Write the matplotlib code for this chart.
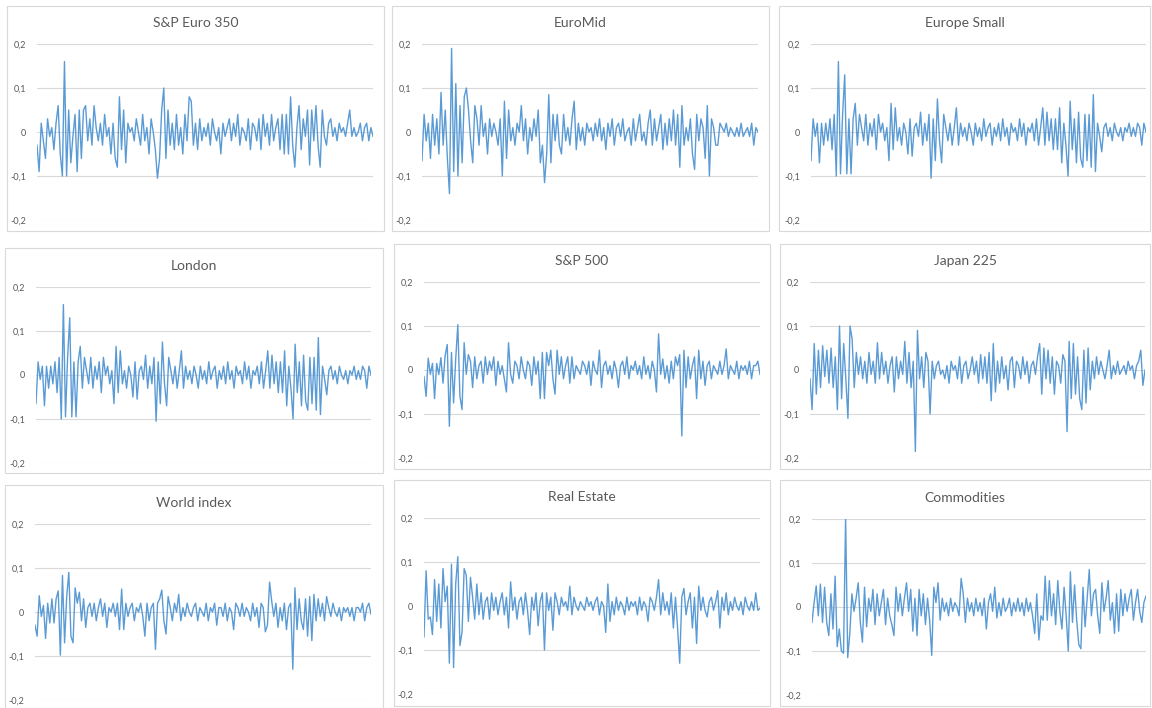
import numpy as np
import matplotlib
matplotlib.use("Agg")
import matplotlib.pyplot as plt
from matplotlib.patches import Rectangle

# Returns, in percent (one value per period)
sp_euro_350 = [
    -3, -9, 2, -2, -6, 3, -1, 1, -4, 2,
    6, -5, -10, 16, -10, 5, -7, -1, 4, -9,
    5, -6, 5, 6, -2, 3, -3, 6, 1, -2,
    2, -3, 4, -1, 1, -5, 2, -6, -8, 8,
    -4, 5, -7, 2, 0, 1, -2, 3, 0, -3,
    4, -2, 1, -5, 3, 0, -4, -10.5, -6, 5,
    10, -6, 5, -3, 2, -4, 4, -3, 1, -5,
    4, -2, 8, 7, -3, 2, -4, 3, -2, 1,
    -1, 2, -3, 3, 0, -2, 1, -5, 2, -1,
    1, 3, -2, 2, -1, 4, -3, 1, 0, -2,
    3, -4, 2, 1, -2, 3, -4, 4, -1, 2,
    -3, 4, -2, 1, 3, -4, 4, -5, 4, -5,
    8, -3, -8, 1, 6, -4, 3, -1, 5, -7.5,
    5, -2, 6, -3, -8, 5, -1, -3, 2, 3,
    -1, 1, -2, 2, 0, 1, -1, 2, 5, -1,
    1, -1, 0, 2, -2, 1, 2, -2, 1, -1,
]

euromid = [
    -6.5, 4, -2, 2, -6, 4, -3, 3, -5, 9,
    -3, 5, -6, -14, 19, -9, 11, -10, 6, -7,
    8, 10, 5, -2, -7, 6, 3, -3, 6, -1,
    2, -5, 3, -1, 2, 0, -3, 3, -10, 7,
    -6, 5, -2, 1, -3, 2, 0, 6, -2, 3,
    -5, 1, -2, 3, -1, 5, -7, -3, -11.5, -5,
    8.5, -7, 4, -2, 4, -3, -5, 4, -2, 1,
    -3, 3, 7, -4, 2, -2, 1, -3, 2, 0,
    1, -2, 2, -1, 3, -2, 1, -4, 2, -1,
    3, -3, 1, 2, -1, 3, -2, 0, 1, -3,
    3, -2, 1, 4, -2, 0, -3, 2, 5, -3,
    3, -2, 1, 4, -4, 2, -3, 3, -2, 5,
    -3, 4, -8, 6, -3, 1, -2, 3, -5, -8.5,
    4, -2, 3, 1, -6, 6, -10, 3, 1, -3,
    -3, 2, 1, 0, 2, -1, 1, 0, -1, 1,
    -1, 2, -1, 0, 1, -1, 2, -3, 1, 0,
]

europe_small = [
    -6.5, 3, -1, 2, -7, 2, -3, 2, -2, 3,
    -4, 4, -10, 16, -9.5, 4, 13, -9.5, 3, -9.5,
    3, 6.5, -3, 4, 1, -2, 4, -3, 2, -1,
    3, -4, 4, 0, 2, -2, 1, -6.5, 6.5, -4,
    5.5, -2, 1, -3, 2, 0, -5, 3, -5.5, 1,
    2, -1, 4.5, -3, 2, -2, 4, -10.5, 3, -6.5,
    7.5, -2, -7, 4, 1, -2, 2, -3, 1, 5.5,
    -3, 2, -1, 1, -2, 2, 0, -3, 2, -1,
    1, -2, 3, -1, 1, 2, -3, 1, -1, 2,
    -2, 3, -1, 1, -3, 2, 0, 1, -2, 3,
    -1, 2, -3, 1, 0, 2, -2, 3, -3, 1,
    5.5, -3, 4.5, -2, 3, -4, 3, -4, 5.5, -7,
    2, -3, -10, 7, -4, 3, -7, 4.5, -6, -8,
    4, -6.5, 4, -8, 8.5, -9, 2, -1, -4.5, 1,
    2, -1, 1, -2, 2, 0, -1, 1, -2, 1,
    0, 2, -1, 1, -1, 2, 1, -3, 2, 0,
]

# London is the same series as Europe Small in the source sheet
london = list(europe_small)

sp_500 = [
    -1.5, -6, 2.7, -1, 1.5, -6.5, 1.5, -1, 2.8, -3,
    3.3, 5.8, -12.8, 4, -7.5, 2.5, 10.3, -6, -9, 6.2,
    -1, 3.5, 2, -4, 3, -2, 1, 2, -3, 3,
    -1, 2, 0, 3, -3.5, 2, -1, 1, -2, -5,
    6.2, -1, -3, 2, 1, -2, 3, 0, -2, 2,
    1, -3.5, 3, -1, 2, -6.5, 4, -6.5, 4, 1,
    4.5, -2, -5.5, 4.5, -1, 3, -2, 1, 3, -3,
    3, -2, 1, 0, -1, 2, 1, -1, 2, -3.5,
    2, 0, -1, 4.5, -4, 1, 2, -1, 1, -2,
    2, 0, -4, 1, 2, -1, 3, -2, 1, 0,
    2, -1, 1, -2, 3, -1, 1, -2, 2, 0,
    -5, 8.2, -1, 2.5, -2, 1, -3, 2, -2, 3,
    1, 3.5, -15, 4.5, -4, 3, -2, 1, 3, -6.5,
    4.5, -2, 2, -3.5, 1, 2, -2, 1, 0, -1,
    2, -1, 1, 4.8, -2, 1, 0, -1, 2, -2,
    1, 0, 1, -1, 2, -2, 1, 1, 2, -1,
]

japan_225 = [
    -2, -9, 6, -5.5, 4.5, -4, 5.5, -1.5, 4.5, -3,
    5, -4, 3, -9, 10, -6.5, 6, -2, -11, 10,
    7, -4, 4, -1, 3, -2, 2, -3, 4, -1,
    2, -3, 6.2, -2, 4, -1, 2, -3, 1, 3,
    -5, 3, -2, 2, -1, 6.5, -3, 4, -4, 2,
    -18.5, 9, -2, 3, -4, 4, 2, -10, 2, -2,
    1, 2, -1, 0, -2, 1, -3, 2, 0, 1,
    -2, 3, -3, 1, 2, -2, 0, 3, -1, 2,
    -3, 3.5, -2, 3, -3, 4, -7, 6, -5, 2,
    -3, 3, -2, 1, -4.5, 2, 3, -4, 2, 1,
    -2, 3, -1, 2, -3, 1, 2, -1, 3, 6,
    -5.5, 5, -2, 4.5, -3, 3, -5.5, 2, 1, -3,
    3.5, 2, -14, 6.5, -6.5, 6, -5.5, 3, -6.5, -9,
    4.5, -7.5, 5, -4.5, 2, -2, 3, -1, 2, 0,
    -2, 1, 4.5, -2, 1, -1, 2, -1, 0, 1,
    -1, 2, 0, 1, -2, 1, 2, 4.5, -3.5, 0,
]

world_index = [
    -3, -5.5, 3.7, -1, 1.5, -6, 2, -2.5, 3, -2.5,
    3, 4.8, -9.8, 8.3, -7, 3.5, 9, -5.5, -7, 5.5,
    2, 4.5, -2, 3, -3.5, 1, 2, -1, 2, -2,
    1, 3, -1, 2, -3.5, 1, 0, 2, -1, 2,
    -4, 5.2, -4, 2, -1, 1, 2, -2, 1, 0,
    2, -1, -5.5, 2, -2, 1, 2, -8.5, 2, 3,
    5, -2, -5, 3.5, 1, -2, 2, 0, 4, -2,
    1, -1, 2, 0, -1, 1, 2, -2, 1, 0,
    -1, 2, -2, 1, 0, 2, -3, 1, 1, -1,
    2, -2, 1, 0, -4, 2, 1, -1, 2, -1,
    1, 0, -2, 2, -1, 1, -3.5, 2, 1, -4.5,
    -3, 6.8, 2.5, -1, 2, -3.5, 1, -2, 2, -4,
    1, 2, -13, 5.5, -4, 3, -2, -4, 3, -5.5,
    3.5, -6.5, 4, -2, 3, -1, 2, -2, 3.5, 1,
    -1, 2, 0, -1, 1, -2, 1, 0, 1, -1,
    1, -2, 1, 1, 0, 2, -2, 1, 2, -0.5,
]

real_estate = [
    -7, 8, -3, -2.5, -6.5, 6, -3.5, 5, -5, 8.5,
    1, 4.5, -13, 9.5, -14, 5, 11.2, -9, -6, 8.5,
    7, -3.5, 6.5, 2, -3, 5, -2, 3, -3, 1,
    2, -3, 3, -1, 2, -2, 1, 3, -2, 2,
    -5, 5.5, -1, 2, -3, 1, 2, -2, 3, -1,
    -6.5, 2, -1, 3, -4.5, 1, 3, -10, 3, -1,
    2, -5.5, 3, 1, -2, 2, 0, 1, -1, 4.5,
    -2, 2, 0, -1, 1, 0, -1, 2, 0, 1,
    -1, 1, 2, -2, 1, 0, -6, 5, -3.5, 1,
    -2, 2, -1, 1, 0, -2, 2, -1, 1, 0,
    1, -2, 2, -1, 1, 0, -3.5, 2, 1, -1,
    2, 6, -2, 3, -1, 1, -2, 3, -5, 2,
    -5, -13, 2, 4, -2, 1, 3, -5, 2, -8.5,
    4.5, -1, 2, -1, -2.5, 1, 2, -1, 1, 3.5,
    -5, 2, -1, 3, -2, 1, -1, 2, 0, -1,
    1, -2, 2, 0, -1, 1, -1, 3, -1, -0.5,
]

commodities = [
    -3.5, 1, 4.8, -2, 5.2, -3.5, 4.5, -3.5, -6.5, 3,
    -5, 7, -9, -5, -10, -10.5, 20.3, -11.5, -6, 3,
    -1, 2, 5.5, -3.5, -8, 4.5, -4.5, 2, -1, 4,
    -4, 3, -2, 1, 4, -4, 2, -2, -4, -6.5,
    4.5, -1, 3, -2, 2, 5.5, -1, 4, -5.5, 2,
    -6.5, 4, -2, 3, -4, 2, -3, -11, 4.5, 1,
    5.5, -3, 2, -1, 1, -2, 2, -1, 1, 0,
    -2, 6.5, 3, -3.5, 2, -1, 1, -2, 2, -1,
    1, -2, 2, -5, 1, 3, -1, 4.5, -2.5, 1,
    -2, 2, -1, 0, 2, -2, 1, -1, 2, -1,
    1, -2, 2, -1, 1, -2, -6, 3, -7.5, -2,
    -3, 7, -3, 6, -2, 3, -4, 6, -1, -5,
    4.5, -2, -10, 8, -3.5, 5, -3, -8.5, -9.5, 4.5,
    -4.5, 2, 8.5, -2, 3, 4, -2, -6, 5.5, -1,
    2, 6, -3, 1, -6, 3, -5.5, 4, -2, 3,
    -1, 2, 4, -3, 1, 4, -1, -3.5, 1, 2.5,
]

titles = ["S&P Euro 350", "EuroMid", "Europe Small",
          "London", "S&P 500", "Japan 225",
          "World index", "Real Estate", "Commodities"]
series = [sp_euro_350, euromid, europe_small,
          london, sp_500, japan_225,
          world_index, real_estate, commodities]

y_ticks = [-0.2, -0.1, 0, 0.1, 0.2]
y_tick_labels = ["-0,2", "-0,1", "0", "0,1", "0,2"]

W, H = 1152, 708

# pixel layout of each Excel chart: outer box (l, t, r, b), plot area (l, r, y at 0.2, y at -0.2)
boxes = [(7, 6, 384, 231), (392, 6, 769, 231), (779, 6, 1150, 231),
         (5, 248, 383, 473), (394, 244, 770, 469), (780, 244, 1150, 469),
         (5, 485, 383, 712), (394, 480, 770, 706), (780, 480, 1150, 706)]
plots = [(37, 373, 44, 220), (422, 758, 44, 220), (811, 1146, 44, 220),
         (36, 371, 287, 463), (424, 760, 282, 458), (810, 1145, 282, 458),
         (35, 371, 524, 700), (424, 760, 518, 694), (812, 1146, 519, 695)]

plt.rcParams['font.family'] = ['Lato', 'DejaVu Sans']

line_color = '#5b9bd5'
grid_color = '#d9d9d9'
text_color = '#595959'

fig = plt.figure(figsize=(W / 100, H / 100), dpi=100)

for title, vals, box, plot in zip(titles, series, boxes, plots):
    bl, bt, br, bb = box
    fig.patches.append(Rectangle((bl / W, 1 - bb / H), (br - bl) / W, (bb - bt) / H,
                                 transform=fig.transFigure, fill=False,
                                 edgecolor=grid_color, linewidth=0.8))

    pl, pr, pt, pb = plot
    ax = fig.add_axes([pl / W, 1 - pb / H, (pr - pl) / W, (pb - pt) / H])
    y = np.array(vals) / 100
    x = np.arange(len(y))
    ax.plot(x, y, color=line_color, linewidth=1.0, zorder=3)

    ax.set_xlim(0, len(y) - 1)
    ax.set_ylim(-0.2, 0.2)
    ax.set_yticks(y_ticks)
    ax.set_yticklabels(y_tick_labels)
    ax.set_xticks([])
    ax.tick_params(axis='y', length=0, pad=8, labelsize=6.5, labelcolor=text_color)
    ax.yaxis.grid(True, color=grid_color, linewidth=0.8)
    ax.set_axisbelow(True)
    for s in ax.spines.values():
        s.set_visible(False)
    ax.patch.set_alpha(0)

    fig.text((bl + br) / 2 / W, 1 - (pt - 21) / H, title, ha='center', va='center',
             fontsize=10, color=text_color)

fig.savefig("out.png", dpi=100)
